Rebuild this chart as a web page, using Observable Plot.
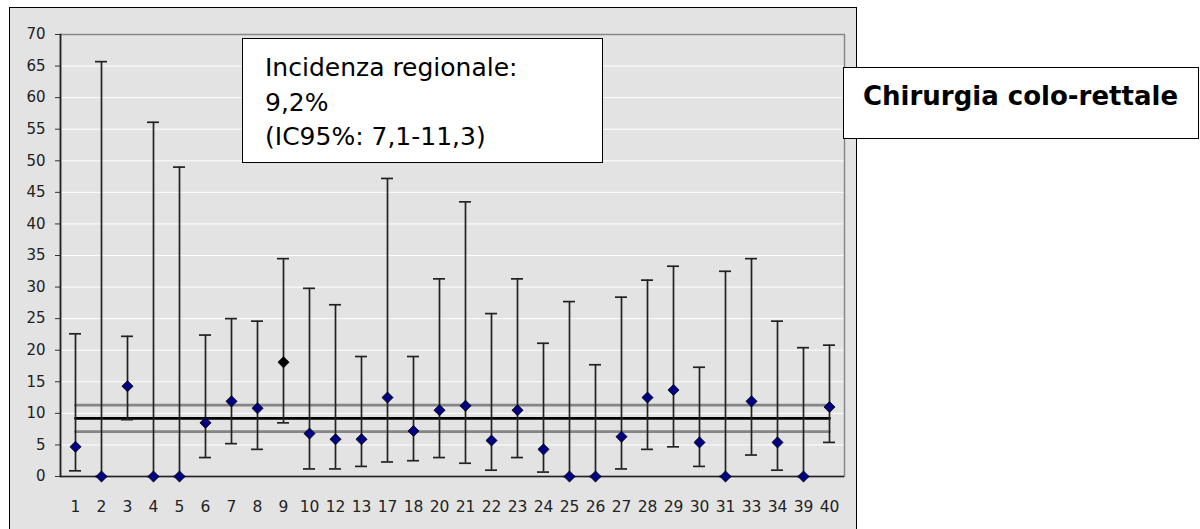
<!DOCTYPE html>
<html lang="it">
<head>
<meta charset="utf-8">
<script src="https://cdn.jsdelivr.net/npm/d3@7"></script>
<script src="https://cdn.jsdelivr.net/npm/@observablehq/plot@0.6"></script>
<style>
  html, body { margin: 0; padding: 0; background: #fff; }
  #wrap { position: relative; width: 1200px; height: 529px; overflow: hidden; font-family: "DejaVu Sans", Verdana, sans-serif; }
  #chartArea { position: absolute; left: 9px; top: 7px; width: 846px; height: 560px; background: #e3e3e3; border: 1.5px solid #000; }
  #plot { position: absolute; left: 0; top: 0; }
  .box { position: absolute; background: #fff; border: 1.5px solid #000; box-sizing: border-box; color: #000; }
  #note { left: 242px; top: 38px; width: 361px; height: 125px; padding: 12px 0 0 22px; font-size: 25px; line-height: 34.5px; }
  #label { left: 843px; top: 67px; width: 356px; height: 72px; padding: 13px 0 0 19px; font-size: 26px; line-height: 30px; font-weight: bold; white-space: nowrap; }
</style>
</head>
<body>
<div id="wrap">
  <div id="chartArea"></div>
  <div id="plot"></div>
  <div class="box" id="note"></div>
  <div class="box" id="label"></div>
</div>
<script>
// Centres (hospital codes) on the x axis
const categories = ["1","2","3","4","5","6","7","8","9","10","12","13","17","18","20","21","22","23","24","25","26","27","28","29","30","31","33","34","39","40"];
// Incidence (%) per centre with its 95% confidence interval
const incidence = [4.7,0,14.3,0,0,8.5,11.9,10.8,18.1,6.8,5.9,5.9,12.5,7.2,10.5,11.2,5.7,10.5,4.3,0,0,6.3,12.5,13.7,5.4,0,11.9,5.4,0,11.0];
const ciLower  = [0.9,0,9.0,0,0,3.0,5.2,4.3,8.5,1.2,1.2,1.6,2.3,2.5,3.0,2.1,1.0,3.0,0.7,0,0,1.2,4.3,4.7,1.6,0,3.4,1.0,0,5.4];
const ciUpper  = [22.6,65.7,22.2,56.1,49.0,22.4,25.0,24.6,34.5,29.8,27.2,19.0,47.2,19.0,31.3,43.5,25.8,31.3,21.1,27.7,17.7,28.4,31.1,33.3,17.3,32.5,34.5,24.6,20.4,20.8];
// Centres drawn with a black marker
const highlighted = ["9"];
// Regional incidence and its 95% CI
const regionalRate = 9.2;
const regionalLower = 7.1;
const regionalUpper = 11.3;
const yTicks = [0,5,10,15,20,25,30,35,40,45,50,55,60,65,70];
const surgeryType = "Chirurgia colo-rettale";

const rows = categories.map((c, i) => ({cat: c, v: incidence[i], lo: ciLower[i], hi: ciUpper[i], hl: highlighted.includes(c)}));
const first = categories[0], last = categories[categories.length - 1];
const refLine = v => [{cat: first, y: v}, {cat: last, y: v}];

const fmt = v => v.toFixed(1).replace(".", ",");
document.getElementById("note").innerHTML =
  `Incidenza regionale:<br>${fmt(regionalRate)}%<br>(IC95%: ${fmt(regionalLower)}-${fmt(regionalUpper)})`;
document.getElementById("label").textContent = surgeryType;

const chart = Plot.plot({
  width: 1200,
  height: 529,
  marginLeft: 60,
  marginRight: 356,
  marginTop: 34,
  marginBottom: 53,
  style: {background: "transparent", fontFamily: "DejaVu Sans, Verdana, sans-serif", overflow: "visible"},
  x: {type: "band", domain: categories, paddingInner: 0.54, paddingOuter: 0.27, label: null},
  y: {domain: [0, 70], label: null},
  marks: [
    Plot.gridY(yTicks, {stroke: "#fff", strokeOpacity: 1, strokeWidth: 1}),
    Plot.frame({stroke: "#888", strokeWidth: 1.5}),
    Plot.lineY(refLine(regionalLower), {x: "cat", y: "y", stroke: "#858585", strokeWidth: 2.7}),
    Plot.lineY(refLine(regionalUpper), {x: "cat", y: "y", stroke: "#858585", strokeWidth: 2.7}),
    Plot.lineY(refLine(regionalRate), {x: "cat", y: "y", stroke: "#000", strokeWidth: 2.8}),
    Plot.ruleX(rows, {x: "cat", y1: "lo", y2: "hi", stroke: "#222", strokeWidth: 1.7}),
    Plot.tickY(rows, {x: "cat", y: "hi", stroke: "#222", strokeWidth: 1.7}),
    Plot.tickY(rows, {x: "cat", y: "lo", stroke: "#222", strokeWidth: 1.7}),
    Plot.frame({anchor: "left", stroke: "#222", strokeWidth: 1.7}),
    Plot.ruleY([0], {stroke: "#222", strokeWidth: 1.7}),
    Plot.axisY(yTicks, {tickSize: 5, tickPadding: 10, fontSize: 15, stroke: "#333", color: "#222", label: null}),
    Plot.axisX({tickSize: 0, tickPadding: 24, fontSize: 15.5, color: "#222", label: null}),
    Plot.dot(rows, {x: "cat", y: "v", symbol: "diamond2", r: 5, fill: d => d.hl ? "#000" : "#000080", stroke: "#000", strokeWidth: 0.8})
  ]
});
document.getElementById("plot").append(chart);
</script>
</body>
</html>
